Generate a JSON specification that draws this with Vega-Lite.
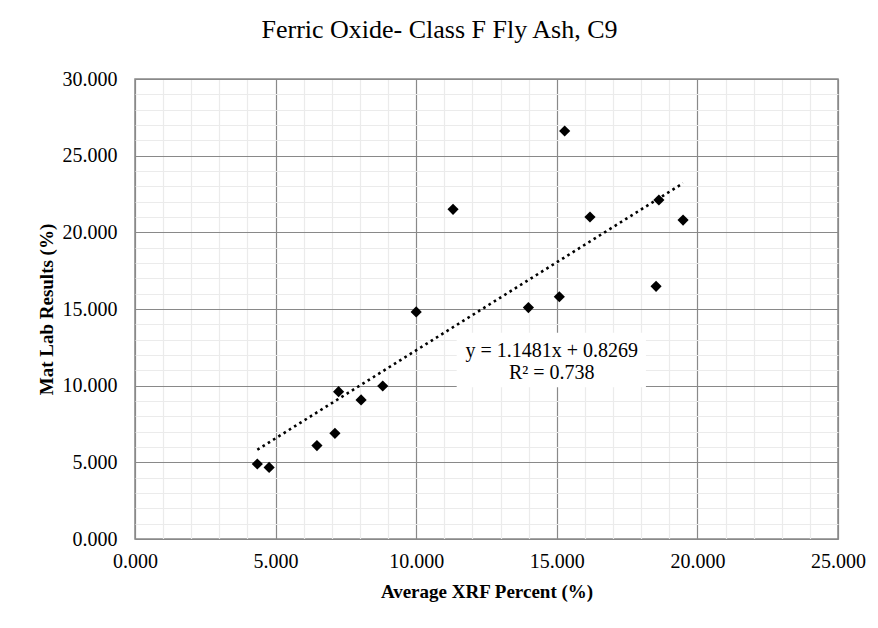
{
  "$schema": "https://vega.github.io/schema/vega-lite/v6.json",
  "width": 703,
  "height": 460,
  "autosize": {"type": "none"},
  "padding": {"left": 135, "top": 79, "right": 40, "bottom": 89},
  "background": "white",
  "title": {
    "text": "Ferric Oxide- Class F Fly Ash, C9",
    "font": "Liberation Serif",
    "fontSize": 26,
    "fontWeight": "normal",
    "color": "#000000",
    "anchor": "middle",
    "dx": -47,
    "offset": 26
  },
  "config": {
    "view": {"stroke": "#898989", "strokeWidth": 1.5},
    "font": "Liberation Serif"
  },
  "datasets": {
    "points": [
      {"x": 4.35, "y": 4.89},
      {"x": 4.77, "y": 4.67},
      {"x": 6.47, "y": 6.09},
      {"x": 7.11, "y": 6.89},
      {"x": 7.24, "y": 9.61},
      {"x": 8.04, "y": 9.07},
      {"x": 8.81, "y": 9.98},
      {"x": 10.0, "y": 14.81},
      {"x": 11.31, "y": 21.5},
      {"x": 13.99, "y": 15.09},
      {"x": 15.09, "y": 15.8},
      {"x": 15.28, "y": 26.61},
      {"x": 16.18, "y": 21.0},
      {"x": 18.53, "y": 16.48},
      {"x": 18.63, "y": 22.11},
      {"x": 19.49, "y": 20.8}
    ],
    "trend": [
      {"x": 4.35, "y": 5.821},
      {"x": 19.49, "y": 23.203}
    ],
    "box": [
      {"x": 11.44, "x2": 18.17, "y": 9.9, "y2": 13.45}
    ],
    "labels": [
      {"x": 14.82, "y": 12.24, "text": "y = 1.1481x + 0.8269"},
      {"x": 14.82, "y": 10.85, "text": "R² = 0.738"}
    ]
  },
  "encoding": {
    "x": {
      "field": "x", "type": "quantitative",
      "scale": {"domain": [0, 25], "nice": false, "zero": false},
      "axis": {
        "title": "Average XRF Percent (%)",
        "titleFont": "Liberation Serif",
        "titleFontSize": 19,
        "titleFontWeight": "bold",
        "titleColor": "#000000",
        "titlePadding": 11,
        "values": [0,1,2,3,4,5,6,7,8,9,10,11,12,13,14,15,16,17,18,19,20,21,22,23,24,25],
        "labelExpr": "datum.value % 5 === 0 ? format(datum.value, '.3f') : ''",
        "labelFont": "Liberation Serif",
        "labelFontSize": 20,
        "labelColor": "#000000",
        "labelPadding": 12,
        "labelOverlap": false,
        "labelFlush": false,
        "ticks": false,
        "domain": false,
        "grid": true,
        "gridColor": {"condition": {"test": "datum.value % 5 === 0", "value": "#898989"}, "value": "#ebebeb"},
        "gridWidth": 1.2
      }
    },
    "y": {
      "field": "y", "type": "quantitative",
      "scale": {"domain": [0, 30], "nice": false, "zero": false},
      "axis": {
        "title": "Mat Lab Results (%)",
        "titleFont": "Liberation Serif",
        "titleFontSize": 19,
        "titleFontWeight": "bold",
        "titleColor": "#000000",
        "titlePadding": 6,
        "values": [0,1,2,3,4,5,6,7,8,9,10,11,12,13,14,15,16,17,18,19,20,21,22,23,24,25,26,27,28,29,30],
        "labelExpr": "datum.value % 5 === 0 ? format(datum.value, '.3f') : ''",
        "labelFont": "Liberation Serif",
        "labelFontSize": 20,
        "labelColor": "#000000",
        "labelPadding": 18,
        "labelOverlap": false,
        "labelFlush": false,
        "ticks": false,
        "domain": false,
        "grid": true,
        "gridColor": {"condition": {"test": "datum.value % 5 === 0", "value": "#898989"}, "value": "#ebebeb"},
        "gridWidth": 1.2
      }
    }
  },
  "layer": [
    {
      "data": {"name": "box"},
      "mark": {"type": "rect", "fill": "white", "stroke": null},
      "encoding": {
        "x2": {"field": "x2"},
        "y2": {"field": "y2"}
      }
    },
    {
      "data": {"name": "trend"},
      "mark": {"type": "line", "color": "black", "strokeWidth": 2.6, "strokeDash": [2.6, 3.6]},
      "encoding": {}
    },
    {
      "data": {"name": "points"},
      "mark": {"type": "point", "shape": "diamond", "filled": true, "color": "black", "size": 125, "opacity": 1},
      "encoding": {}
    },
    {
      "data": {"name": "labels"},
      "mark": {"type": "text", "font": "Liberation Serif", "fontSize": 20, "color": "black", "align": "center", "baseline": "middle"},
      "encoding": {
        "text": {"field": "text"}
      }
    }
  ]
}
